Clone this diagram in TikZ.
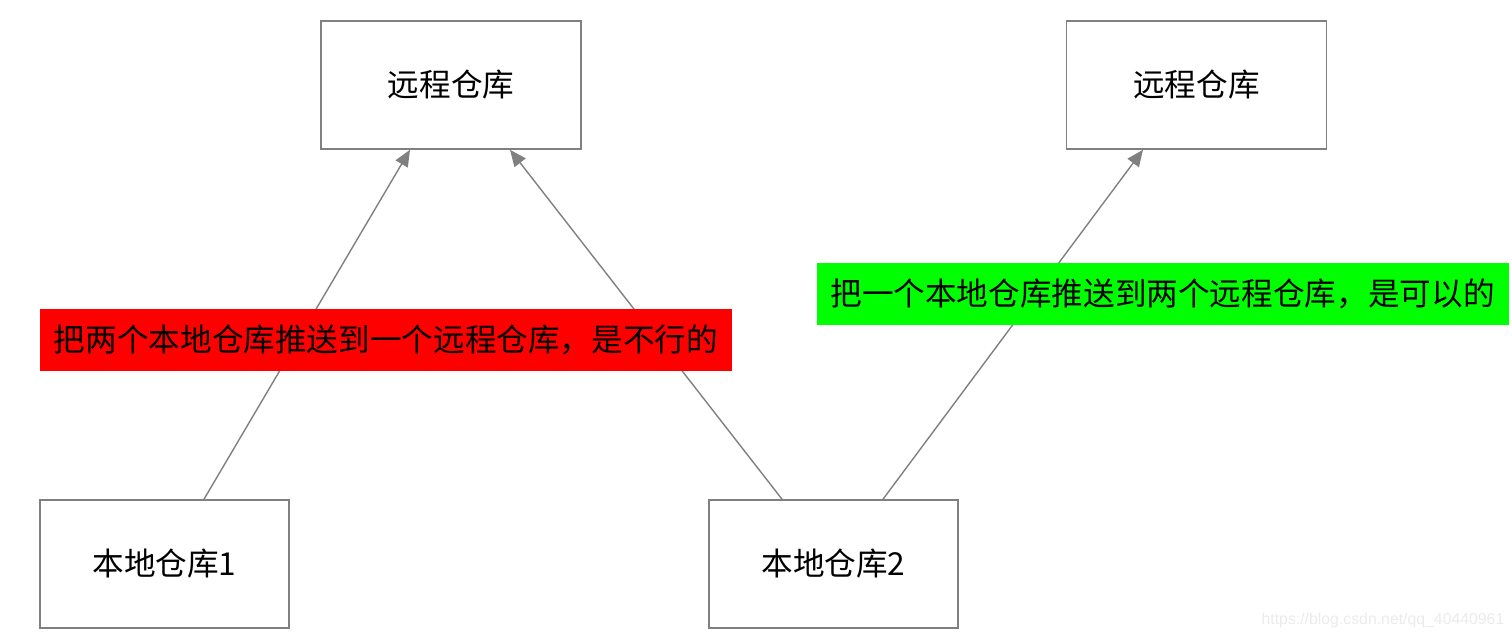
\documentclass[tikz,border=0pt]{standalone}
\usepackage{fontspec}
\newfontfamily\cjk{Noto Sans CJK SC}
\newfontfamily\wmfont{Liberation Sans}
\usepackage{tikz}
\usetikzlibrary{arrows.meta, calc}
\definecolor{linegray}{RGB}{128,128,128}
\definecolor{badred}{RGB}{255,0,0}
\definecolor{goodgreen}{RGB}{0,255,0}
\tikzset{
    repo/.style={draw=linegray, line width=0.9pt, minimum width=#1, minimum height=2.56cm, font=\cjk\fontsize{18}{18}\selectfont},
    push/.style={draw=linegray, line width=0.8pt, -{Triangle[length=0.33cm, width=0.28cm]}},
    note/.style={fill=#1, minimum height=1.24cm, minimum width=13.84cm, inner sep=0pt, font=\cjk\fontsize{18}{18}\selectfont}
}

\begin{document}
\begin{tikzpicture}
        \useasboundingbox (0,0) rectangle (30.24,12.8);

        \node[repo=5.2cm] (remote1) at (9.02,11.1) {远程仓库};
        \node[repo=5.2cm] (remote2) at (23.93,11.1) {远程仓库};
        \node[repo=4.98cm] (local1) at (3.29,1.52) {本地仓库1};
        \node[repo=4.98cm] (local2) at (16.67,1.52) {本地仓库2};
        
        \draw[push] ([xshift=0.79cm]local1.north) -- ([xshift=-0.82cm]remote1.south);
        \draw[push] ([xshift=-1.03cm]local2.north) -- ([xshift=1.18cm]remote1.south);
        \draw[push] ([xshift=0.99cm]local2.north) -- ([xshift=-1.07cm]remote2.south);

        \node[note=badred] (bad) at (7.72,6.0) {把两个本地仓库推送到一个远程仓库，是不行的};
        \node[note=goodgreen] (good) at (23.25,6.92) {把一个本地仓库推送到两个远程仓库，是可以的};

        \node[text=black!8, font=\wmfont\fontsize{9}{9}\selectfont] (mark) at (27.66,0.4) {https://blog.csdn.net/qq\_40440961};
    \end{tikzpicture}
\end{document}
